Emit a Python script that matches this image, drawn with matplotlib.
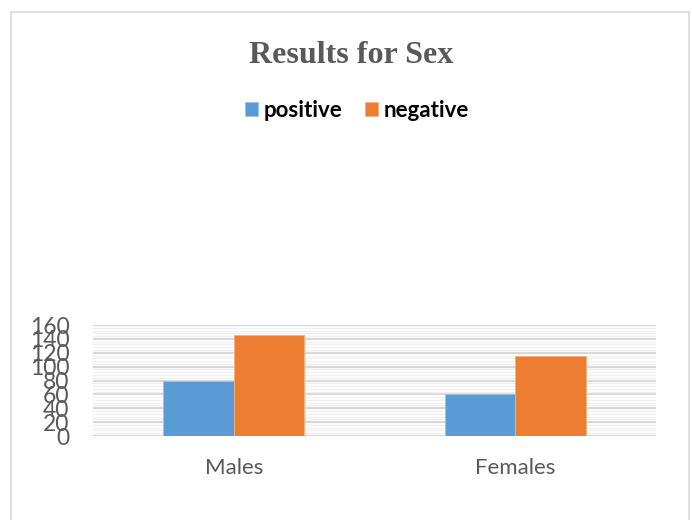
import matplotlib
matplotlib.use("Agg")
import matplotlib.pyplot as plt
import numpy as np
from matplotlib.patches import Rectangle
from matplotlib.ticker import MultipleLocator

categories = ["Males", "Females"]
positive = [79, 60]
negative = [145, 116]
y_ticks = [0, 20, 40, 60, 80, 100, 120, 140, 160]

blue = "#5B9BD5"
orange = "#ED7D31"
grey_text = "#595959"

fig = plt.figure(figsize=(6.92, 5.2), dpi=100)
ax = fig.add_axes([0.1344, 0.1615, 0.8136, 0.2135])

x = np.arange(len(categories))
w = 0.25
ax.bar(x - w / 2, positive, w, color=blue, edgecolor="#9DC3E6", linewidth=0.6, label="positive", zorder=3)
ax.bar(x + w / 2, negative, w, color=orange, edgecolor="#F4B183", linewidth=0.6, label="negative", zorder=3)

ax.set_xlim(-0.5, 1.5)
ax.set_ylim(0, 160)
ax.set_yticks(y_ticks)
ax.yaxis.set_minor_locator(MultipleLocator(4))
ax.grid(axis="y", which="major", color="#D9D9D9", linewidth=1.6, zorder=0)
ax.grid(axis="y", which="minor", color="#F0F0F0", linewidth=1.0, zorder=0)
ax.set_xticks(x)
ax.set_xticklabels(categories, fontfamily="Lato", fontsize=16, color=grey_text)
for lbl in ax.get_yticklabels():
    lbl.set_fontfamily("Lato")
    lbl.set_fontsize(16.5)
    lbl.set_color(grey_text)
ax.tick_params(axis="both", which="both", length=0)
ax.tick_params(axis="x", pad=16)
ax.tick_params(axis="y", pad=17)
for s in ax.spines.values():
    s.set_visible(False)

fig.text(0.507, 0.893, "Results for Sex", ha="center", va="center",
         fontfamily="Liberation Serif", fontweight="bold", fontsize=23, color=grey_text)

handles, labels = ax.get_legend_handles_labels()
fig.legend(handles, labels, loc="center", bbox_to_anchor=(0.516, 0.787), ncol=2,
           frameon=False, prop={"family": "Lato", "weight": "bold", "size": 16},
           handlelength=0.6, handleheight=0.6, handletextpad=0.25, columnspacing=1.0)

# thin frame around the chart area
fig.patches.append(Rectangle((0.0166, -0.02), 0.979, 0.997, transform=fig.transFigure,
                             fill=False, edgecolor="#D9D9D9", linewidth=1.2))

fig.savefig("out.png", dpi=100)
